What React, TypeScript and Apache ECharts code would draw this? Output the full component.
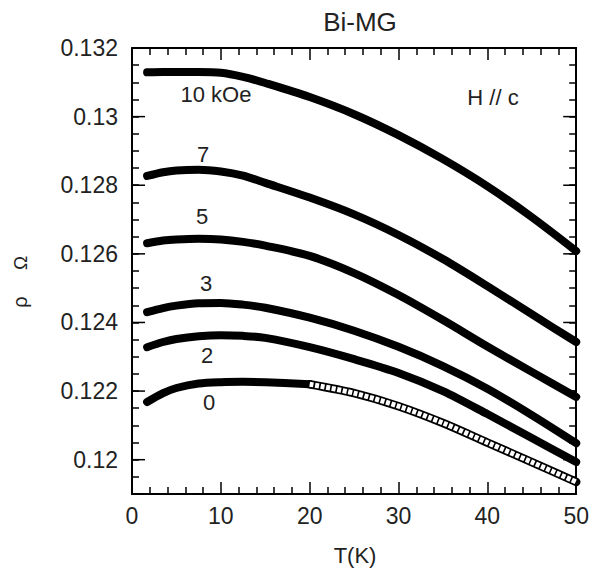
import React, { useEffect, useRef } from 'react';
import * as echarts from 'echarts';

// Temperature grid (K)
const temperatures = [1.7, 3.5, 5, 7.5, 10, 12.5, 15, 20, 25, 30, 35, 40, 45, 50];
// Resistivity for each field
const rho10kOe = [0.13129, 0.1313, 0.1313, 0.1313, 0.13128, 0.13116, 0.13098, 0.13057, 0.13007, 0.12946, 0.12876, 0.12797, 0.12707, 0.12608];
const rho7kOe = [0.12827, 0.12838, 0.12843, 0.12845, 0.1284, 0.12828, 0.12807, 0.12764, 0.12715, 0.12655, 0.12585, 0.12506, 0.12424, 0.12343];
const rho5kOe = [0.12631, 0.12639, 0.12642, 0.12644, 0.12642, 0.12635, 0.12624, 0.12594, 0.12544, 0.1248, 0.12407, 0.1233, 0.12256, 0.12183];
const rho3kOe = [0.1243, 0.12442, 0.12449, 0.12456, 0.12457, 0.12452, 0.12443, 0.12414, 0.12376, 0.12329, 0.12273, 0.12207, 0.1213, 0.12048];
const rho2kOe = [0.12328, 0.12343, 0.12352, 0.1236, 0.12363, 0.12361, 0.12355, 0.12328, 0.12293, 0.12253, 0.122, 0.12133, 0.12063, 0.11993];
const rho0kOe = [0.12168, 0.12194, 0.12209, 0.12222, 0.12226, 0.12227, 0.12226, 0.1222, 0.12194, 0.12156, 0.12107, 0.1205, 0.11993, 0.11935];
// index where the 0 kOe data switch from filled to open markers (T = 20 K)
const openStartIndex = 7;

const yMajorTicks = [0.12, 0.122, 0.124, 0.126, 0.128, 0.13, 0.132];
const fieldLabels = ['10 kOe', '7', '5', '3', '2', '0'];

const FONT = '"Liberation Sans", Arial, Helvetica, sans-serif';

const pts = (rho: number[], from = 0, to = rho.length) =>
  temperatures.slice(from, to).map((t, i) => [t, rho[from + i]]);

const SMOOTH = 0.3;

const solidLine = (name: string, data: number[][]) => ({
  name,
  type: 'line',
  data,
  showSymbol: false,
  smooth: SMOOTH,
  clip: false,
  silent: true,
  lineStyle: { color: '#000', width: 8, cap: 'round', join: 'round' },
  z: 3,
});

export default function App() {
  const ref = useRef<HTMLDivElement>(null);
  useEffect(() => {
    const chart = echarts.init(ref.current!, undefined, { renderer: 'svg' });

    const axisCommonX = {
      type: 'value',
      min: 0,
      max: 50,
      interval: 10,
      axisLine: { show: true, onZero: false, lineStyle: { color: '#000', width: 2 } },
      axisTick: { show: true, inside: true, length: 12, lineStyle: { color: '#000', width: 1.5 } },
      minorTick: { show: true, splitNumber: 5, length: 7, lineStyle: { color: '#000', width: 1.5 } },
      splitLine: { show: false },
      minorSplitLine: { show: false },
    };
    const axisCommonY = {
      type: 'value',
      min: 0.119,
      max: 0.132,
      interval: 0.0005,
      axisLine: { show: true, onZero: false, lineStyle: { color: '#000', width: 2 } },
      axisTick: { show: true, inside: true, length: 7, lineStyle: { color: '#000', width: 1.5 } },
      splitLine: { show: false },
    };

    const labelPos: [number, number][] = [
      [216, 94],
      [203, 154],
      [202, 216],
      [206, 283],
      [207, 355],
      [209, 402],
    ];

    const option = {
      animation: false,
      backgroundColor: '#fff',
      grid: { left: 132, right: 14, top: 48, bottom: 77, containLabel: false },
      xAxis: [
        {
          ...axisCommonX,
          position: 'bottom',
          axisLabel: { show: true, margin: 10, fontFamily: FONT, fontSize: 23, color: '#222' },
        },
        {
          ...axisCommonX,
          position: 'top',
          axisLabel: { show: false },
        },
      ],
      yAxis: [
        {
          ...axisCommonY,
          position: 'left',
          axisLabel: {
            show: true,
            margin: 14,
            fontFamily: FONT,
            fontSize: 23,
            color: '#222',
            formatter: (v: number) => {
              const k = Math.round(v * 10000);
              return k % 20 === 0 ? String(k / 10000) : '';
            },
          },
        },
        {
          ...axisCommonY,
          position: 'right',
          axisLabel: { show: false },
        },
      ],
      series: [
        solidLine('10 kOe', pts(rho10kOe)),
        solidLine('7 kOe', pts(rho7kOe)),
        solidLine('5 kOe', pts(rho5kOe)),
        solidLine('3 kOe', pts(rho3kOe)),
        solidLine('2 kOe', pts(rho2kOe)),
        solidLine('0 kOe', pts(rho0kOe, 0, openStartIndex + 1)),
        {
          name: '0 kOe open outline',
          type: 'line',
          data: pts(rho0kOe, openStartIndex),
          showSymbol: false,
          smooth: SMOOTH,
          clip: false,
          silent: true,
          lineStyle: { color: '#000', width: 8.5, cap: 'round' },
          z: 3,
        },
        {
          name: '0 kOe open inner',
          type: 'line',
          data: pts(rho0kOe, openStartIndex),
          showSymbol: false,
          smooth: SMOOTH,
          clip: false,
          silent: true,
          lineStyle: { color: '#fff', width: 5, type: [4, 1.6], cap: 'butt' },
          z: 4,
        },
        {
          name: 'major y ticks',
          type: 'custom',
          data: yMajorTicks.map((v) => [0, v]),
          encode: { x: 0, y: 1 },
          clip: false,
          silent: true,
          z: 5,
          renderItem: (params: any, api: any) => {
            const y = api.coord([api.value(0), api.value(1)])[1];
            const cs = params.coordSys;
            const left = cs.x;
            const right = cs.x + cs.width;
            return {
              type: 'group',
              children: [
                { type: 'line', shape: { x1: left, y1: y, x2: left + 13, y2: y }, style: { stroke: '#000', lineWidth: 1.5 } },
                { type: 'line', shape: { x1: right - 13, y1: y, x2: right, y2: y }, style: { stroke: '#000', lineWidth: 1.5 } },
              ],
            };
          },
        },
      ],
      graphic: [
        {
          type: 'text',
          x: 360,
          y: 22,
          style: { text: 'Bi-MG', fontFamily: FONT, fontSize: 26, fill: '#222', align: 'center', verticalAlign: 'middle' },
        },
        {
          type: 'text',
          x: 355,
          y: 555,
          style: { text: 'T(K)', fontFamily: FONT, fontSize: 22, fill: '#222', align: 'center', verticalAlign: 'middle' },
        },
        {
          type: 'text',
          x: 20,
          y: 302,
          rotation: Math.PI / 2,
          style: { text: 'ρ', fontFamily: FONT, fontSize: 20, fill: '#222', align: 'center', verticalAlign: 'middle' },
        },
        {
          type: 'text',
          x: 20,
          y: 263,
          rotation: Math.PI / 2,
          style: { text: 'Ω', fontFamily: FONT, fontSize: 19, fill: '#222', align: 'center', verticalAlign: 'middle' },
        },
        {
          type: 'text',
          x: 493,
          y: 97,
          style: { text: 'H // c', fontFamily: FONT, fontSize: 22, fill: '#222', align: 'center', verticalAlign: 'middle' },
        },
        ...fieldLabels.map((t, i) => ({
          type: 'text',
          x: labelPos[i][0],
          y: labelPos[i][1],
          style: { text: t, fontFamily: FONT, fontSize: 22, fill: '#222', align: 'center', verticalAlign: 'middle' },
        })),
      ],
    };

    chart.setOption(option as any);
    return () => chart.dispose();
  }, []);

  return (
    <div
      ref={ref}
      style={{ position: 'fixed', left: 0, top: 0, width: 592, height: 571, background: '#fff' }}
    />
  );
}
